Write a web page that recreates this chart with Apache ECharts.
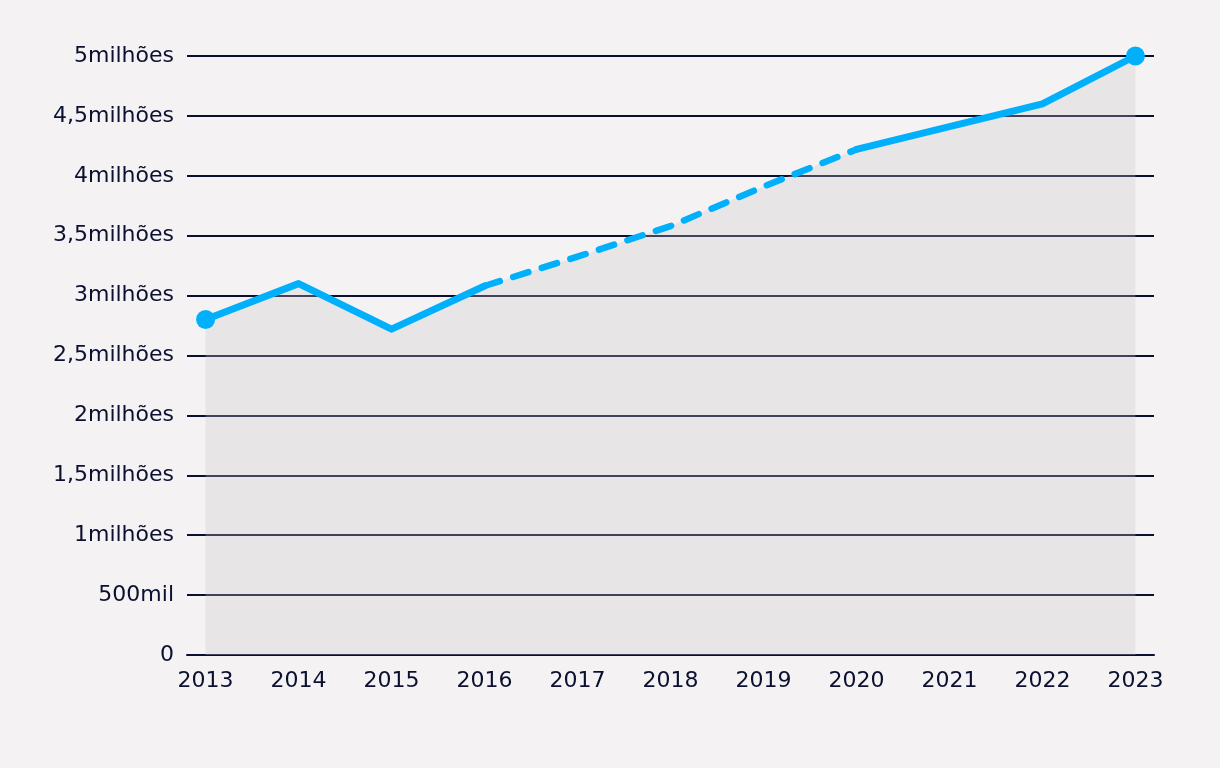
<!DOCTYPE html>
<html>
<head>
<meta charset="utf-8">
<script src="https://cdn.jsdelivr.net/npm/echarts@6/dist/echarts.min.js"></script>
<style>
html,body{margin:0;padding:0;background:#f4f2f3;}
#c{width:1220px;height:768px;}
</style>
</head>
<body>
<div id="c"></div>
<script>
var years = [2013, 2014, 2015, 2016, 2017, 2018, 2019, 2020, 2021, 2022, 2023];
var values = [2800000, 3100000, 2720000, 3080000, 3325000, 3580000, 3910000, 4220000, 4410000, 4600000, 5000000];
// segment from 2016 to 2020 is drawn dashed
var dashedYears = [2016, 2017, 2018, 2019, 2020];
var yTicks = [0, 500000, 1000000, 1500000, 2000000, 2500000, 3000000, 3500000, 4000000, 4500000, 5000000];
var yTickLabels = ['0', '500mil', '1milhões', '1,5milhões', '2milhões', '2,5milhões', '3milhões', '3,5milhões', '4milhões', '4,5milhões', '5milhões'];

var navy = '#0b1030';
var blue = '#00b0fb';
var font = '"DejaVu Sans", sans-serif';

var allPts = years.map(function (y, i) { return [y, values[i]]; });
var solidPts = years.map(function (y, i) {
  var inner = y > dashedYears[0] && y < dashedYears[dashedYears.length - 1];
  return [y, inner ? null : values[i]];
});
var dashPts = years.map(function (y, i) {
  return [y, dashedYears.indexOf(y) >= 0 ? values[i] : null];
});
var endPts = [allPts[0], allPts[allPts.length - 1]];

var chart = echarts.init(document.getElementById('c'));
chart.setOption({
  backgroundColor: '#f4f2f3',
  animation: false,
  grid: { left: 187, right: 66, top: 56, bottom: 113, containLabel: false },
  xAxis: {
    type: 'value',
    min: 2012.8,
    max: 2023.2,
    axisLine: { show: true, lineStyle: { color: navy, width: 2 } },
    axisTick: { show: false },
    splitLine: { show: false },
    axisLabel: {
      customValues: years,
      formatter: function (v) { return String(v); },
      color: navy,
      fontFamily: font,
      fontSize: 22,
      margin: 15
    }
  },
  yAxis: {
    type: 'value',
    min: 0,
    max: 5000000,
    interval: 500000,
    axisLine: { show: false },
    axisTick: { show: false },
    splitLine: { show: true, lineStyle: { color: navy, width: 2 } },
    axisLabel: {
      color: navy,
      fontFamily: font,
      fontSize: 22,
      margin: 13,
      formatter: function (v) {
        var i = yTicks.indexOf(v);
        return i >= 0 ? yTickLabels[i] : '';
      }
    }
  },
  series: [
    {
      type: 'line',
      data: allPts,
      showSymbol: false,
      lineStyle: { width: 0, opacity: 0 },
      areaStyle: { color: 'rgba(200,196,202,0.28)', opacity: 1 },
      silent: true,
      z: 1
    },
    {
      type: 'line',
      data: solidPts,
      connectNulls: false,
      showSymbol: false,
      lineStyle: { color: blue, width: 7, cap: 'round', join: 'round' },
      z: 3
    },
    {
      type: 'line',
      data: dashPts,
      connectNulls: false,
      showSymbol: false,
      lineStyle: { color: blue, width: 6.5, type: [16, 14], cap: 'round', join: 'round' },
      z: 3
    },
    {
      type: 'scatter',
      data: endPts,
      symbolSize: 19,
      itemStyle: { color: blue, opacity: 1 },
      z: 4
    }
  ]
});
</script>
</body>
</html>
